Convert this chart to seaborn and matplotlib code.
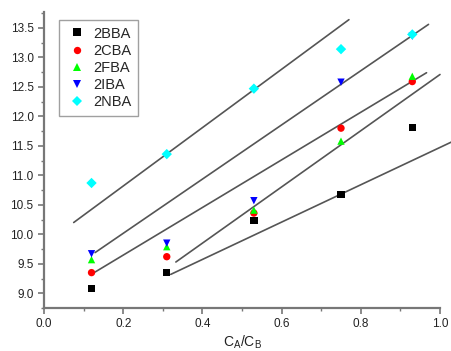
import matplotlib
matplotlib.use("Agg")
import matplotlib.pyplot as plt
import seaborn as sns
import pandas as pd
from matplotlib.ticker import MultipleLocator

# ---- data ----
x_vals = [0.12, 0.31, 0.53, 0.75, 0.93]
series_names = ["2BBA", "2CBA", "2FBA", "2IBA", "2NBA"]
y_2BBA = [9.08, 9.35, 10.23, 10.68, 11.81]
y_2CBA = [9.35, 9.62, 10.36, 11.80, 12.59]
y_2FBA = [9.57, 9.79, 10.41, 11.58, 12.68]
y_2IBA = [9.67, 9.85, 10.57, 12.58, 13.36]
y_2NBA = [10.87, 11.36, 12.47, 13.14, 13.39]

# fitted guide lines (start x, end x, start y, end y)
fit_x0 = [0.075, 0.129, 0.129, 0.333, 0.320]
fit_x1 = [0.770, 0.971, 0.966, 1.000, 1.040]
fit_y0 = [10.20, 9.69, 9.36, 9.53, 9.32]
fit_y1 = [13.64, 13.56, 12.74, 12.71, 11.60]

colors = ["#000000", "#ff0000", "#00ff00", "#0000ff", "#00ffff"]
markers = ["s", "o", "^", "v", "D"]
yticks = [9.0, 9.5, 10.0, 10.5, 11.0, 11.5, 12.0, 12.5, 13.0, 13.5]

rows = []
for name, ys in zip(series_names, [y_2BBA, y_2CBA, y_2FBA, y_2IBA, y_2NBA]):
    for xv, yv in zip(x_vals, ys):
        rows.append({"x": xv, "y": yv, "series": name})
df = pd.DataFrame(rows)

sns.set_style("ticks")
plt.rcParams["font.family"] = ["Liberation Sans", "DejaVu Sans"]
plt.rcParams["mathtext.fontset"] = "custom"
plt.rcParams["mathtext.rm"] = "Liberation Sans"
plt.rcParams["mathtext.it"] = "Liberation Sans"

fig = plt.figure(figsize=(4.51, 3.51), dpi=100)
ax = fig.add_axes([44/451, 1-308/351, (440-44)/451, (308-12)/351])

for x0, x1, y0, y1 in zip(fit_x0, fit_x1, fit_y0, fit_y1):
    ax.plot([x0, x1], [y0, y1], color="#555555", lw=1.2, zorder=1, clip_on=False)

sns.scatterplot(data=df, x="x", y="y", hue="series", style="series",
                palette=dict(zip(series_names, colors)),
                markers=dict(zip(series_names, markers)),
                s=28, linewidth=0, ax=ax, zorder=3, clip_on=False)

ax.set_xlim(0, 1.0)
ax.set_ylim(8.75, 13.77)
ax.xaxis.set_minor_locator(MultipleLocator(0.1))
ax.yaxis.set_minor_locator(MultipleLocator(0.25))
ax.set_xticks([0.0, 0.2, 0.4, 0.6, 0.8, 1.0])
ax.set_xticklabels(["0.0", "0.2", "0.4", "0.6", "0.8", "1.0"])
ax.set_yticks(yticks)
ax.set_yticklabels([f"{v:.1f}" for v in yticks])

for s in ["top", "right"]:
    ax.spines[s].set_visible(False)
for s in ["left", "bottom"]:
    ax.spines[s].set_color("#777777")
    ax.spines[s].set_linewidth(1.6)
ax.tick_params(which="major", length=4, width=1.2, color="#777777", labelsize=8.5, labelcolor="#222222")
ax.tick_params(which="minor", length=2.5, width=1.0, color="#777777")

ax.set_xlabel(r"C$_{A}$/C$_{B}$", fontsize=10, color="#222222", labelpad=2)
ax.set_ylabel("")

leg = ax.legend(loc="upper left", bbox_to_anchor=(15/396, (308-20)/296), borderaxespad=0,
                fontsize=10.5, frameon=True, fancybox=False, edgecolor="#888888",
                handletextpad=0.3, handlelength=1.6, labelspacing=0.22, borderpad=0.45,
                markerscale=1.0)
leg.get_frame().set_linewidth(1.0)

fig.savefig("out.png", dpi=100)
